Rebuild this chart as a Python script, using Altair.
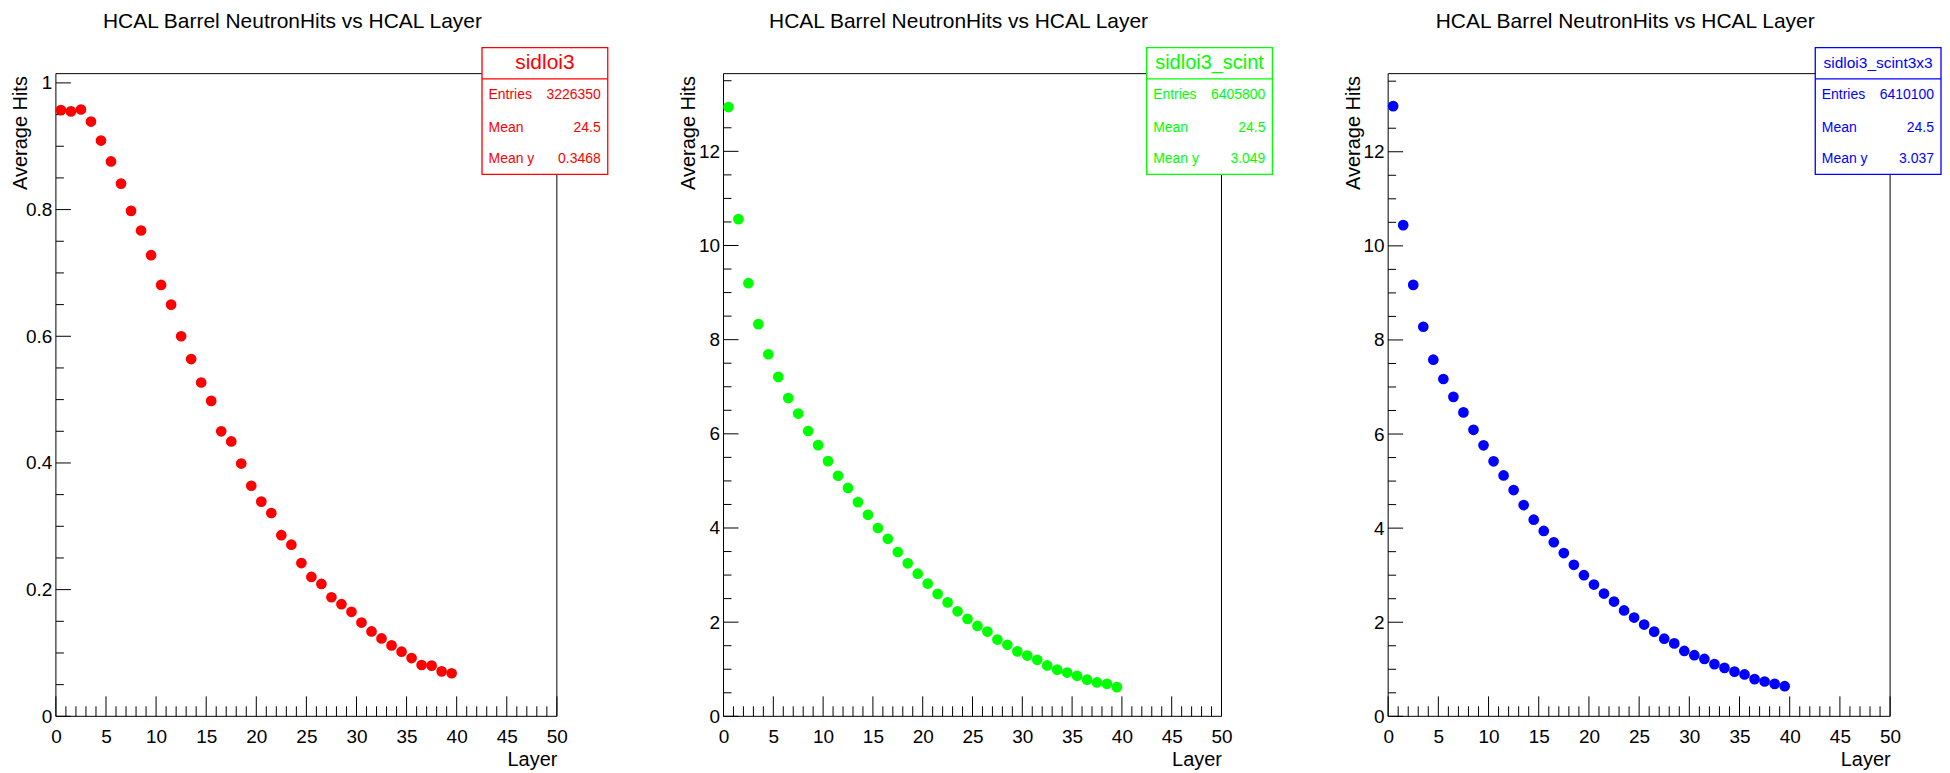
import altair as alt
import pandas as pd

# ---------------- data ----------------
layer_centers = [i + 0.5 for i in range(40)]

hits_sidloi3 = [0.957, 0.955, 0.958, 0.939, 0.909, 0.876, 0.841, 0.798, 0.767, 0.728,
                0.681, 0.650, 0.600, 0.564, 0.527, 0.498, 0.450, 0.434, 0.399, 0.364,
                0.339, 0.321, 0.286, 0.271, 0.242, 0.220, 0.209, 0.188, 0.177, 0.165,
                0.148, 0.134, 0.123, 0.112, 0.102, 0.092, 0.081, 0.080, 0.071, 0.068]

hits_scint = [12.94, 10.56, 9.20, 8.33, 7.69, 7.21, 6.76, 6.43, 6.06, 5.76,
              5.42, 5.11, 4.85, 4.55, 4.28, 4.00, 3.77, 3.49, 3.25, 3.03,
              2.82, 2.60, 2.42, 2.23, 2.07, 1.92, 1.80, 1.63, 1.52, 1.38,
              1.29, 1.20, 1.08, 0.99, 0.93, 0.86, 0.78, 0.72, 0.69, 0.62]

hits_scint3x3 = [12.97, 10.44, 9.17, 8.28, 7.58, 7.17, 6.79, 6.46, 6.09, 5.76,
                 5.42, 5.12, 4.81, 4.49, 4.18, 3.94, 3.70, 3.47, 3.22, 3.00,
                 2.80, 2.61, 2.44, 2.25, 2.10, 1.95, 1.80, 1.65, 1.55, 1.39,
                 1.30, 1.22, 1.11, 1.03, 0.95, 0.89, 0.79, 0.74, 0.69, 0.64]

series = [hits_sidloi3, hits_scint, hits_scint3x3]
panel_names = ["sidloi3", "sidloi3_scint", "sidloi3_scint3x3"]
panel_colors = ["#ff0000", "#00ff00", "#0000ff"]
stat_labels = ["Entries", "Mean", "Mean y"]
stat_values = [["3226350", "24.5", "0.3468"],
               ["6405800", "24.5", "3.049"],
               ["6410100", "24.5", "3.037"]]
y_max = [1.0146, 13.65, 13.66]
y_major = [[0, 0.2, 0.4, 0.6, 0.8, 1.0],
           [0, 2, 4, 6, 8, 10, 12],
           [0, 2, 4, 6, 8, 10, 12]]
y_minor = [[0.05, 0.1, 0.15, 0.25, 0.3, 0.35, 0.45, 0.5, 0.55, 0.65, 0.7, 0.75, 0.85, 0.9, 0.95],
           [0.5, 1, 1.5, 2.5, 3, 3.5, 4.5, 5, 5.5, 6.5, 7, 7.5, 8.5, 9, 9.5, 10.5, 11, 11.5, 12.5, 13, 13.5],
           [0.5, 1, 1.5, 2.5, 3, 3.5, 4.5, 5, 5.5, 6.5, 7, 7.5, 8.5, 9, 9.5, 10.5, 11, 11.5, 12.5, 13, 13.5]]
x_major = [0, 5, 10, 15, 20, 25, 30, 35, 40, 45, 50]
x_minor = [1, 2, 3, 4, 6, 7, 8, 9, 11, 12, 13, 14, 16, 17, 18, 19, 21, 22, 23, 24,
           26, 27, 28, 29, 31, 32, 33, 34, 36, 37, 38, 39, 41, 42, 43, 44, 46, 47, 48, 49]
chart_title = "HCAL Barrel NeutronHits vs HCAL Layer"
x_title = "Layer"
y_title = "Average Hits"

# ---------------- style ----------------
FONT = "Liberation Sans"
H = 644
widths = [502, 499, 503]
stat_title_sizes = [21, 20, 15.5]


def panel(i):
    W = widths[i]
    col = panel_colors[i]
    xs = alt.Scale(domain=[0, 50], nice=False, zero=False)
    ys = alt.Scale(domain=[0, y_max[i]], nice=False, zero=False)
    x_axis = alt.Axis(values=x_major, format="d", title=x_title, labelFontSize=19,
                      labelPadding=11, ticks=False, tickSize=0, domain=False, grid=False,
                      labelFlush=False, labelOverlap=False, labelColor="black",
                      titleFontSize=20, titleFontWeight="normal", titleColor="black",
                      titleX=W, titleY=49, titleAlign="right", titleBaseline="alphabetic",
                      titleAnchor="end", labelFont=FONT, titleFont=FONT)
    y_axis = alt.Axis(values=y_major[i], format="~g", title=y_title, labelFontSize=19,
                      labelPadding=4, ticks=False, tickSize=0, domain=False, grid=False,
                      labelFlush=False, labelOverlap=False, labelColor="black",
                      titleFontSize=20, titleFontWeight="normal", titleColor="black",
                      titleX=-29, titleY=2, titleAngle=270, titleAlign="right",
                      titleBaseline="alphabetic", titleAnchor="end",
                      labelFont=FONT, titleFont=FONT)

    df = pd.DataFrame({"Layer": layer_centers, "Hits": series[i]})
    one = pd.DataFrame({"k": [0]})

    pts = alt.Chart(df).mark_circle(size=115, opacity=1, color=col).encode(
        x=alt.X("Layer:Q", scale=xs, axis=x_axis),
        y=alt.Y("Hits:Q", scale=ys, axis=y_axis),
    )

    xmaj = alt.Chart(pd.DataFrame({"Layer": x_major})).mark_rule(color="black", strokeWidth=1).encode(
        x=alt.X("Layer:Q", scale=xs, axis=x_axis), y=alt.value(H), y2=alt.value(H - 20))
    xmin = alt.Chart(pd.DataFrame({"Layer": x_minor})).mark_rule(color="black", strokeWidth=1).encode(
        x=alt.X("Layer:Q", scale=xs, axis=x_axis), y=alt.value(H), y2=alt.value(H - 10))
    ymaj = alt.Chart(pd.DataFrame({"Hits": y_major[i]})).mark_rule(color="black", strokeWidth=1).encode(
        y=alt.Y("Hits:Q", scale=ys, axis=y_axis), x=alt.value(0), x2=alt.value(15))
    ymin = alt.Chart(pd.DataFrame({"Hits": y_minor[i]})).mark_rule(color="black", strokeWidth=1).encode(
        y=alt.Y("Hits:Q", scale=ys, axis=y_axis), x=alt.value(0), x2=alt.value(8))

    frame = [
        alt.Chart(one).mark_rule(color="black", strokeWidth=1).encode(
            x=alt.value(0), x2=alt.value(W), y=alt.value(0)),
        alt.Chart(one).mark_rule(color="black", strokeWidth=1).encode(
            x=alt.value(0), x2=alt.value(W), y=alt.value(H)),
        alt.Chart(one).mark_rule(color="black", strokeWidth=1).encode(
            x=alt.value(0), y=alt.value(0), y2=alt.value(H)),
        alt.Chart(one).mark_rule(color="black", strokeWidth=1).encode(
            x=alt.value(W), y=alt.value(0), y2=alt.value(H)),
    ]

    title = alt.Chart(one).mark_text(font=FONT, fontSize=21, color="black", align="center",
                                     baseline="alphabetic").encode(
        x=alt.value(W / 2 - 14), y=alt.value(-46), text=alt.value(chart_title))

    box = alt.Chart(one).mark_rect(fill="white", stroke=col, strokeWidth=1.3).encode(
        x=alt.value(W - 75), x2=alt.value(W + 51), y=alt.value(-26), y2=alt.value(101))
    divider = alt.Chart(one).mark_rule(color=col, strokeWidth=1.3).encode(
        x=alt.value(W - 75), x2=alt.value(W + 51), y=alt.value(5.3))
    box_title = alt.Chart(one).mark_text(font=FONT, fontSize=stat_title_sizes[i], color=col,
                                         align="center", baseline="middle").encode(
        x=alt.value(W - 12), y=alt.value(-10.5), text=alt.value(panel_names[i]))
    rows = []
    row_y = [21.3, 54.7, 85.3]
    for r in range(3):
        rows.append(alt.Chart(one).mark_text(font=FONT, fontSize=14, color=col, align="left",
                                             baseline="middle").encode(
            x=alt.value(W - 68.5), y=alt.value(row_y[r]), text=alt.value(stat_labels[r])))
        rows.append(alt.Chart(one).mark_text(font=FONT, fontSize=14, color=col, align="right",
                                             baseline="middle").encode(
            x=alt.value(W + 44), y=alt.value(row_y[r]), text=alt.value(stat_values[i][r])))

    return alt.layer(xmin, xmaj, ymin, ymaj, *frame, pts, title, box, divider, box_title,
                     *rows).properties(width=W, height=H)


chart = alt.hconcat(panel(0), panel(1), panel(2), spacing=167, bounds="flush").properties(
    padding={"left": 3, "top": 2, "right": 0, "bottom": 0}
).configure(font=FONT).configure_view(stroke=None)

chart.save("out.html", embed_options={"renderer": "svg", "actions": False})
